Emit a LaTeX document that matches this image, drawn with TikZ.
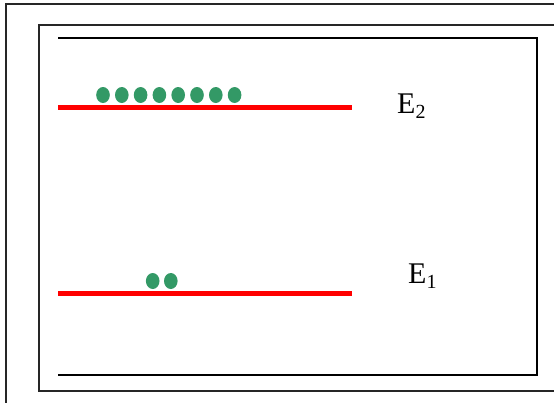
\documentclass[tikz,border=0pt]{standalone}
\usepackage{fontspec}
\setmainfont{Liberation Serif}
\definecolor{dotgreen}{RGB}{51,153,102}
\tikzset{
  frame/.style={draw=black!85, line width=1.2pt},
  box/.style={draw=black, line width=2pt},
  level/.style={draw=red, line width=5pt},
  particle/.style={fill=dotgreen},
  lbl/.style={font=\fontsize{30}{32}\selectfont, anchor=base west, inner sep=0pt}
}
\begin{document}
\begin{tikzpicture}[x=1pt,y=-1pt]
\useasboundingbox (0,0) rectangle (554,402);
\clip (0,0) rectangle (554,402);
\fill[white] (0,0) rectangle (554,402);
% frames
\draw[frame] (6,4) rectangle (570,420);
\draw[frame] (39,25) rectangle (570,391);
\draw[box] (58,38) -- (537,38) -- (537,375) -- (58,375);
% levels
\coordinate (e2a) at (58,107.5);
\coordinate (e2b) at (352,107.5);
\coordinate (e1a) at (58,293);
\coordinate (e1b) at (352,293);
\draw[level] (e2a) -- (e2b);
\draw[level] (e1a) -- (e1b);
% particles
\foreach \i in {0,...,7}{
  \fill[particle] (103+18.8*\i,95) ellipse (6.8 and 8);
}
\fill[particle] (152.7,281) ellipse (6.8 and 8);
\fill[particle] (170.8,281) ellipse (6.8 and 8);
% labels
\node[lbl] (E2) at (397,113) {E\raisebox{-5pt}{\fontsize{20}{21}\selectfont 2}};
\node[lbl] (E1) at (408,283) {E\raisebox{-5pt}{\fontsize{20}{21}\selectfont 1}};
\end{tikzpicture}
\end{document}
